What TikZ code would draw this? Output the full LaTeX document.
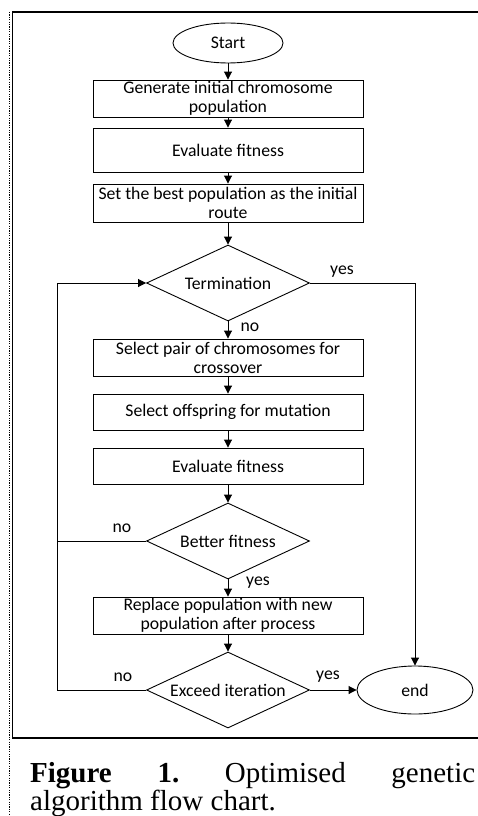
\documentclass[tikz,border=0pt]{standalone}
\usepackage{fontspec}
\setmainfont{Carlito}
\newfontfamily\capfont{Liberation Serif}
\usetikzlibrary{shapes.geometric,arrows.meta}
\begin{document}
\begin{tikzpicture}[x=1pt,y=-1pt,
  every node/.style={font=\fontsize{17.7}{19}\selectfont},
  box/.style={draw, line width=0.9pt, minimum width=270pt, align=center, inner sep=0pt},
  dec/.style={draw, diamond, line width=0.9pt, minimum width=163pt, minimum height=76pt, aspect=2, inner sep=0pt},
  term/.style={draw, ellipse, line width=0.9pt, inner sep=0pt},
  lbl/.style={inner sep=0pt},
  arr/.style={line width=0.9pt, -{Triangle[length=8pt,width=8pt]}},
  ln/.style={line width=0.9pt}]
\useasboundingbox (0,0) rectangle (478,816);
% frame
\draw[line width=2pt] (12,12) -- (478,12);
\draw[line width=1.5pt] (12,738) -- (478,738);
\draw[line width=0.6pt] (12,12) -- (12,738);
\draw[line width=1.2pt, dash pattern=on 1.2pt off 1.2pt] (9.5,12) -- (9.5,816);
% nodes
\node[term, minimum width=110pt, minimum height=40pt] (start) at (228,43) {Start};
\node[box, minimum height=37pt] (b1) at (228,98.5) {Generate initial chromosome\\population};
\node[box, minimum height=44pt] (b2) at (228,150) {Evaluate fitness};
\node[box, minimum height=38pt] (b3) at (228,203) {Set the best population as the initial\\route};
\node[dec] (d1) at (228,283) {Termination};
\node[box, minimum height=37pt] (b4) at (228,357.5) {Select pair of chromosomes for\\crossover};
\node[box, minimum height=36pt] (b5) at (228,412) {Select offspring for mutation};
\node[box, minimum height=36pt] (b6) at (228,466) {Evaluate fitness};
\node[dec] (d2) at (228,541) {Better fitness};
\node[box, minimum height=37pt] (b7) at (228,615.5) {Replace population with new\\population after process};
\node[dec] (d3) at (228,690) {Exceed iteration};
\node[term, minimum width=116pt, minimum height=48pt] (endn) at (415,690) {end};
\coordinate (lx) at (57,0);
% connectors
\draw[arr] (start) -- (b1);
\draw[arr] (b1) -- (b2);
\draw[arr] (b2) -- (b3);
\draw[arr] (b3) -- (d1);
\draw[arr] (d1) -- (b4);
\draw[arr] (b4) -- (b5);
\draw[arr] (b5) -- (b6);
\draw[arr] (b6) -- (d2);
\draw[arr] (d2) -- (b7);
\draw[arr] (b7) -- (d3);
\draw[arr] (d3.west) -- (d3.west -| lx) |- (d1.west);
\draw[ln] (d2.west) -- (d2.west -| lx);
\draw[arr] (d1.east) -- (d1.east -| endn.north) -- (endn.north);
\draw[arr] (d3.east) -- (endn.west);
% labels
\node[lbl] (l1) at (342,272) {yes};
\node[lbl] (l2) at (250,327) {no};
\node[lbl] (l3) at (122,528) {no};
\node[lbl] (l4) at (258,583) {yes};
\node[lbl] (l5) at (123,677) {no};
\node[lbl] (l6) at (328,677) {yes};
% caption
\node[anchor=base west, inner sep=0pt, font=\capfont\fontsize{29}{29}\selectfont] (cap1) at (30,782) {\makebox[445pt]{\textbf{Figure}\hfill\textbf{1.}\hfill Optimised\hfill genetic}};
\node[anchor=base west, inner sep=0pt, font=\capfont\fontsize{29}{29}\selectfont] (cap2) at (30,810) {algorithm flow chart.};
\end{tikzpicture}
\end{document}
